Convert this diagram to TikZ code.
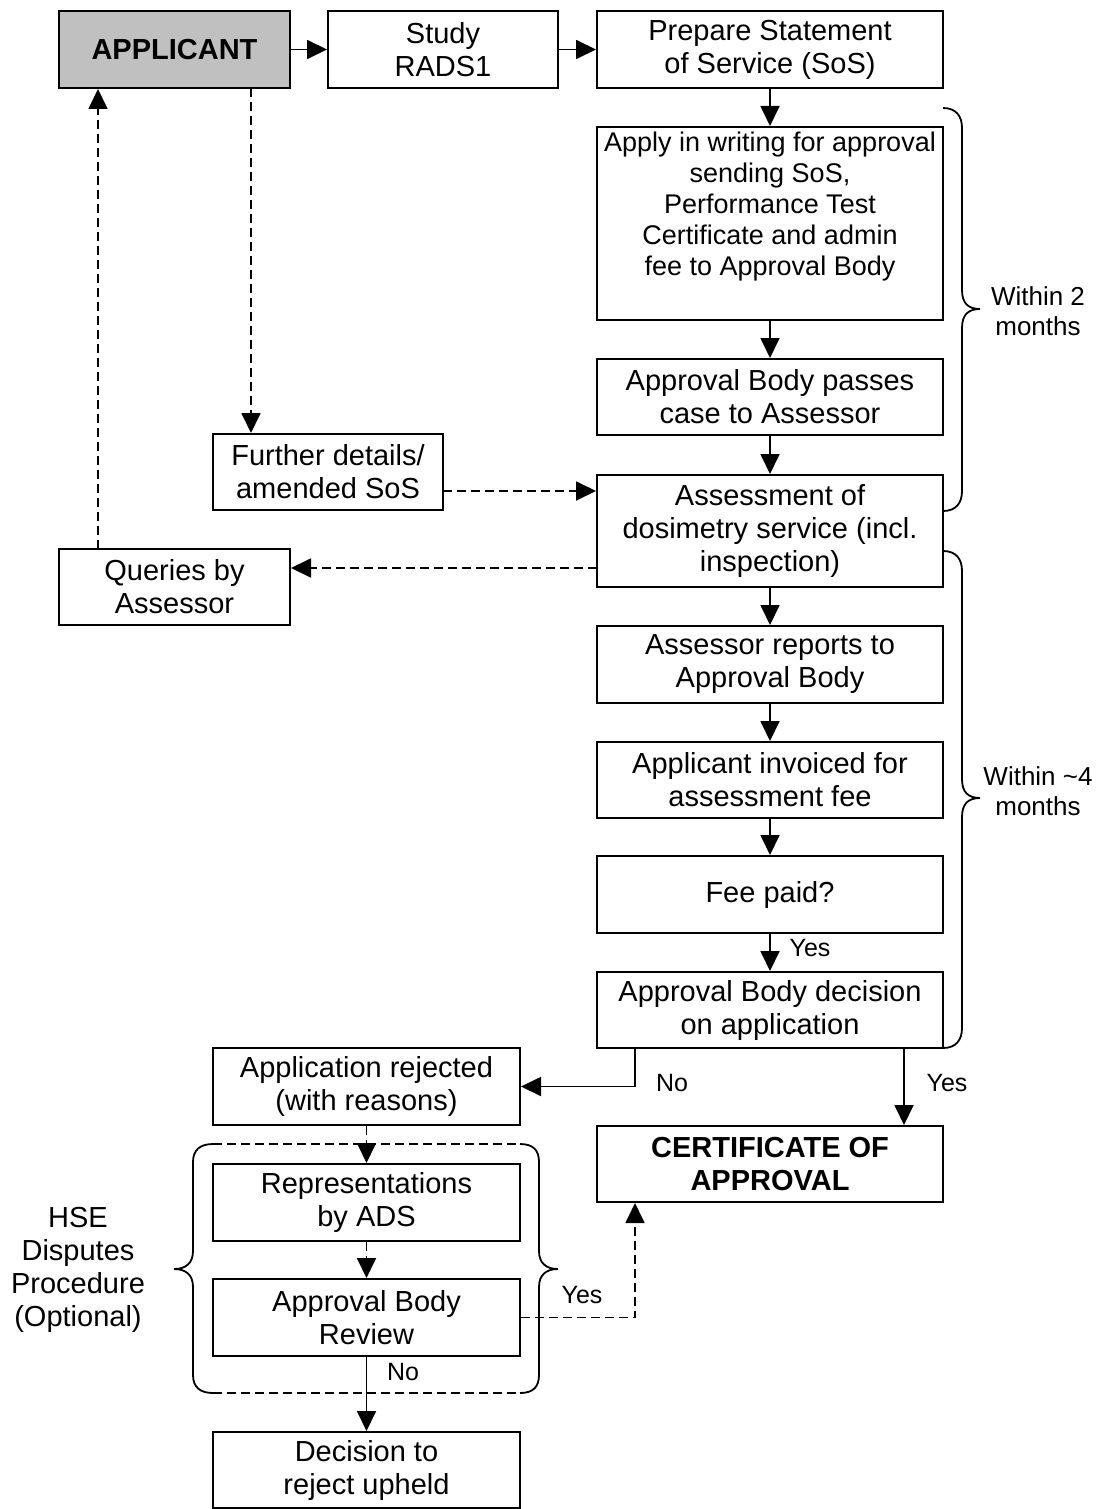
\documentclass[tikz,border=0pt]{standalone}
\usepackage{fontspec}
\setmainfont{Liberation Sans}
\usetikzlibrary{arrows.meta}
\newcommand\dgfont{\fontsize{29}{33}\selectfont}
\newcommand\dgsmall{\fontsize{27}{31}\selectfont}
\newcommand\dgbrace{\fontsize{26}{30}\selectfont}
\newcommand\dglab{\fontsize{25}{29}\selectfont}
\definecolor{appgray}{RGB}{192,192,192}
\begin{document}
\begin{tikzpicture}[x=1pt,y=-1pt,
  box/.style={draw, line width=2pt, align=center, inner sep=0pt, font=\dgfont},
  conn/.style={line width=1.8pt, -{Triangle[length=20pt,width=19pt]}},
  dconn/.style={conn, dash pattern=on 9pt off 5pt},
  bracepath/.style={line width=1.8pt},
  lbl/.style={inner sep=0pt, font=\dglab},
  side/.style={inner sep=0pt, align=center, font=\dgbrace}]
\useasboundingbox (0,0) rectangle (1101,1509);
% top row
\node[box, fill=appgray, minimum width=231pt, minimum height=77pt] (apl) at (174.5,49.5) {\bfseries APPLICANT};
\node[box, minimum width=230pt, minimum height=77pt] (study) at (443,49.5) {Study\\RADS1};
\node[box, minimum width=346pt, minimum height=77pt] (prep) at (770,49.5) {Prepare Statement\\of Service (SoS)};
% main column
\node[draw, line width=2pt, inner sep=0pt] (apply) at (770,223.5) {\parbox[c][193pt][t]{346pt}{\centering\dgsmall\vspace*{5pt}Apply in writing for approval\\sending SoS,\\Performance Test\\Certificate and admin\\fee to Approval Body\par}};
\node[box, minimum width=346pt, minimum height=76pt] (pass) at (770,397) {Approval Body passes\\case to Assessor};
\node[box, minimum width=346pt, minimum height=112pt] (assess) at (770,531) {Assessment of\\dosimetry service (incl.\\inspection)};
\node[box, minimum width=346pt, minimum height=77pt] (reports) at (770,664.5) {Assessor reports to\\Approval Body};
\node[box, minimum width=346pt, minimum height=76pt] (invoiced) at (770,780) {Applicant invoiced for\\assessment fee};
\node[box, minimum width=346pt, minimum height=77pt] (fee) at (770,894.5) {Fee paid?};
\node[box, minimum width=346pt, minimum height=76pt] (decision) at (770,1010) {Approval Body decision\\on application};
\node[box, minimum width=346pt, minimum height=76pt] (cert) at (770,1164) {\bfseries CERTIFICATE OF\\\bfseries APPROVAL};
% left side
\node[box, minimum width=230pt, minimum height=76pt] (further) at (328,472) {Further details/\\amended SoS};
\node[box, minimum width=231pt, minimum height=76pt] (queries) at (174.5,587) {Queries by\\Assessor};
\node[box, minimum width=307pt, minimum height=77pt] (rejected) at (366.5,1086.5) {Application rejected\\(with reasons)};
\node[box, minimum width=307pt, minimum height=77pt] (repr) at (366.5,1202.5) {Representations\\by ADS};
\node[box, minimum width=307pt, minimum height=77pt] (review) at (366.5,1317.5) {Approval Body\\Review};
\node[box, minimum width=307pt, minimum height=76pt] (upheld) at (366.5,1470) {Decision to\\reject upheld};
% main connectors
\draw[conn] (apl) -- (study);
\draw[conn] (study) -- (prep);
\draw[conn] (prep) -- (apply);
\draw[conn] (apply) -- (pass);
\draw[conn] (pass) -- (assess);
\draw[conn] (assess) -- (reports);
\draw[conn] (reports) -- (invoiced);
\draw[conn] (invoiced) -- (fee);
\draw[conn] (fee) -- (decision);
\node[lbl] (yesfee) at (810,948) {Yes};
\coordinate (noTop) at (635,1048);
\coordinate (yesTop) at (904,1048);
\draw[conn] (noTop) |- (rejected.east);
\node[lbl] (nodec) at (672,1083) {No};
\draw[conn] (yesTop) -- (yesTop |- cert.north);
\node[lbl] (yesdec) at (947,1083) {Yes};
% dashed loops
\coordinate (a1) at (251,88);
\draw[dconn] (a1) -- (a1 |- further.north);
\coordinate (q1) at (98,549);
\draw[dconn] (q1) -- (q1 |- apl.south);
\coordinate (f1) at (443,491);
\draw[dconn] (f1) -- (f1 -| assess.west);
\coordinate (q2) at (597,568);
\draw[dconn] (q2) -- (q2 -| queries.east);
% disputes
\draw[dconn] (rejected) -- (repr);
\draw[dconn] (repr) -- (review);
\draw[conn] (review) -- (upheld);
\node[lbl] (noreview) at (403,1372) {No};
\draw[dconn] (review.east) -| (cert.south -| noTop);
\node[lbl] (yesreview) at (582,1295) {Yes};
% group frame
\draw[bracepath, dash pattern=on 9pt off 5pt] (213,1144) -- (520,1144);
\draw[bracepath, dash pattern=on 9pt off 5pt] (213,1393) -- (520,1393);
\draw[bracepath] (213,1144) .. controls (200,1144) and (193,1150) .. (193,1162) -- (193,1251)
  .. controls (193,1263) and (186,1269) .. (174,1269)
  .. controls (186,1269) and (193,1275) .. (193,1287) -- (193,1375)
  .. controls (193,1387) and (200,1393) .. (213,1393);
\draw[bracepath] (520,1144) .. controls (533,1144) and (539,1150) .. (539,1162) -- (539,1251)
  .. controls (539,1263) and (546,1269) .. (558,1269)
  .. controls (546,1269) and (539,1275) .. (539,1287) -- (539,1375)
  .. controls (539,1387) and (533,1393) .. (520,1393);
\node[inner sep=0pt, align=center, font=\dgfont] (hse) at (78,1270) {HSE\\Disputes\\Procedure\\(Optional)};
% right braces
\draw[bracepath] (943,108) .. controls (956,108) and (962,116) .. (962,128) -- (962,290)
  .. controls (962,303) and (968,309) .. (980,309)
  .. controls (968,309) and (962,315) .. (962,328) -- (962,491)
  .. controls (962,503) and (956,511) .. (943,511);
\node[side] (w2) at (1038,311) {Within 2\\months};
\draw[bracepath] (943,551) .. controls (956,551) and (962,559) .. (962,571) -- (962,779)
  .. controls (962,792) and (968,798) .. (980,798)
  .. controls (968,798) and (962,804) .. (962,817) -- (962,1028)
  .. controls (962,1040) and (956,1048) .. (943,1048);
\node[side] (w4) at (1038,791) {Within \textasciitilde4\\months};
\end{tikzpicture}
\end{document}
